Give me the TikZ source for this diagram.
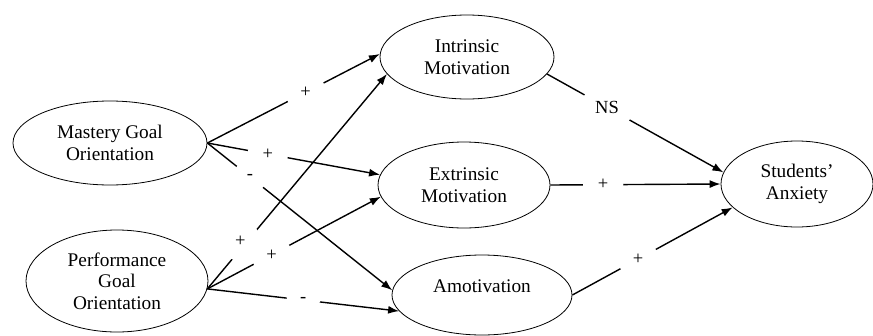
\documentclass[tikz,border=0pt]{standalone}
\usepackage{fontspec}
\setmainfont{Liberation Serif}
\usetikzlibrary{arrows.meta,shapes.geometric}
\tikzset{>={Latex[length=11pt,width=8pt]}}
\tikzset{construct/.style={draw,ellipse,line width=0.8pt,inner sep=0pt,align=center,
        font=\fontsize{19.3}{21.5}\selectfont}}
\tikzset{sign/.style={circle,fill=white,inner sep=9pt,font=\fontsize{18.5}{21}\selectfont}}

\begin{document}
\begin{tikzpicture}[x=1pt,y=-1pt]
                        \useasboundingbox (0,0) rectangle (873,335);
                        \node[construct,minimum width=194pt,minimum height=84pt] (mg) at (110,143) {Mastery Goal\\Orientation};
                        \node[construct,minimum width=182pt,minimum height=102pt] (pg) at (117,281) {Performance\\Goal\\Orientation};
                        \node[construct,minimum width=174pt,minimum height=84pt] (im) at (467,57) {Intrinsic\\Motivation};
                        \node[construct,minimum width=172pt,minimum height=86pt] (em) at (464,185) {Extrinsic\\Motivation};
                        \node[construct,minimum width=180pt,minimum height=80pt] (am) at (482,295) {Amotivation\\[-4pt]\mbox{}};
                        \node[construct,minimum width=152pt,minimum height=86pt] (sa) at (797,184) {Students'\\Anxiety};
                        \path[->,line width=1.4pt]
                            (mg.east)  edge  node[sign,pos=0.57] {+} (im.178)
                            (mg.east)  edge  node[sign,pos=0.35] {+} (em.173)
                            (mg.east)  edge  node[sign,pos=0.23] {-} (am.177)
                            (pg.355)  edge  node[sign,pos=0.2,xshift=-3pt,yshift=5pt] {+} (im.192)
                            (pg.355)  edge  node[sign,pos=0.37] {+} (em.188)
                            (pg.355)  edge  node[sign,pos=0.5] {-} (am.191)
                            (im.348)  edge  node[sign,pos=0.34] {NS} (sa.171)
                            (em.east)  edge  node[sign,pos=0.31] {+} (sa.180)
                            (am.east)  edge  node[sign,pos=0.41] {+} (sa.200)
                        ;
                    \end{tikzpicture}
\end{document}
